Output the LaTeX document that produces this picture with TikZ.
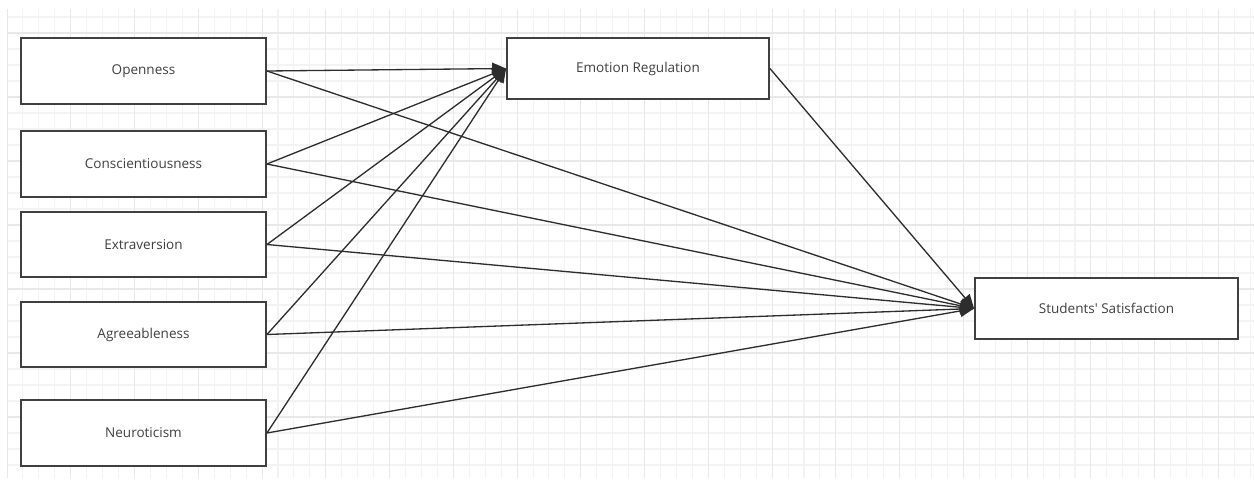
\documentclass[tikz,border=0pt]{standalone}
\usepackage{fontspec}
\setmainfont{Open Sans}
\usetikzlibrary{arrows.meta}
\definecolor{BoxLine}{RGB}{64,64,64}
\definecolor{ArrowGray}{RGB}{45,45,45}
\definecolor{GridMinor}{RGB}{243,243,243}
\definecolor{GridMajor}{RGB}{232,232,232}

\begin{document}
\begin{tikzpicture}[x=0.02cm, y=-0.02cm,
    font=\fontsize{7.7}{9}\selectfont,
    every node/.style={align=center, text=BoxLine},
    factor/.style={draw=BoxLine, line width=1.1pt, fill=white,
        minimum width=4.9cm, minimum height=1.31cm},
    link/.style={-{Triangle[length=0.28cm, width=0.24cm]}, line width=0.75pt, ArrowGray}]
  \useasboundingbox (0,0) rectangle (1254,481);
  % background grid
  \begin{scope}
    \clip (7,9) rectangle (1254,478);
    \foreach \i in {0,...,78}
      \draw[GridMinor, line width=0.6pt] ({7+\i*15.94},9) -- ({7+\i*15.94},478);
    \foreach \j in {0,...,29}
      \draw[GridMinor, line width=0.6pt] (7,{1+\j*16}) -- (1254,{1+\j*16});
    \foreach \i in {0,4,...,76}
      \draw[GridMajor, line width=0.6pt] ({7+\i*15.94},9) -- ({7+\i*15.94},478);
    \foreach \j in {0,4,...,28}
      \draw[GridMajor, line width=0.6pt] (7,{33+\j*16}) -- (1254,{33+\j*16});
  \end{scope}

  \node[factor] (open)  at (143.5,71)    {Openness};
  \node[factor] (consc) at (143.5,164)   {Conscientiousness};
  \node[factor] (extra) at (143.5,244.5) {Extraversion};
  \node[factor] (agree) at (143.5,334.5) {Agreeableness};
  \node[factor] (neuro) at (143.5,433)   {Neuroticism};
  \node[factor, minimum width=5.24cm, minimum height=1.21cm] (emo) at (638,68.5) {Emotion Regulation};
  \node[factor, minimum width=5.26cm, minimum height=1.21cm] (sat) at (1106.5,308.5) {Students\textquotesingle\ Satisfaction};

  \foreach \f in {open,consc,extra,agree,neuro} {
    \draw[link] (\f.east) -- (emo.west);
    \draw[link] (\f.east) -- (sat.west);
  }
  \draw[link] (emo.east) -- (sat.west);
\end{tikzpicture}
\end{document}
